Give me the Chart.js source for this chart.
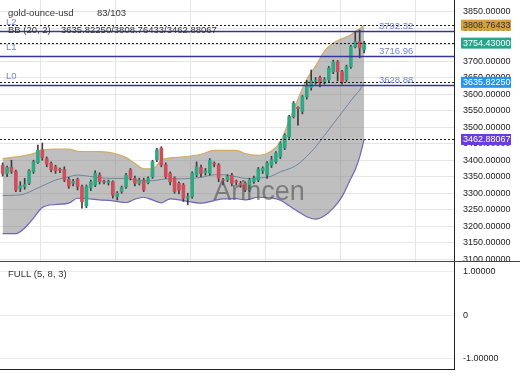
<!DOCTYPE html>
<html>
<head>
<meta charset="utf-8">
<script src="https://cdn.jsdelivr.net/npm/chart.js@4.4.0/dist/chart.umd.min.js"></script>
<style>
  body { margin: 0; background: #fff; }
  #wrap { position: relative; width: 520px; height: 390px; }
  canvas { position: absolute; left: 0; }
</style>
</head>
<body>
<div id="wrap">
  <canvas id="priceChart" width="520" height="261" style="top:0"></canvas>
  <canvas id="oscChart" width="520" height="110" style="top:261px"></canvas>
</div>
<script>
// Candles, one per slot (83 of 103 slots filled)
var candleOpen = [3384, 3360, 3378, 3366, 3315, 3320, 3330, 3366, 3393, 3432,
  3405, 3390, 3380, 3372, 3372, 3342, 3330, 3342, 3320, 3262,
  3316, 3325, 3355, 3336, 3332, 3335, 3290, 3305, 3320, 3370,
  3345, 3330, 3340, 3332, 3350, 3401, 3437, 3386, 3360, 3346,
  3330, 3325, 3285, 3290, 3355, 3378, 3362, 3361, 3390, 3386,
  3340, 3340, 3355, 3335, 3330, 3331, 3310, 3335, 3340, 3368,
  3355, 3385, 3396, 3411, 3437, 3471, 3532, 3560, 3547, 3592,
  3620, 3640, 3650, 3636, 3643, 3668, 3698, 3668, 3643, 3683,
  3744, 3759, 3734];
var candleHigh = [3392, 3382, 3400, 3370, 3335, 3345, 3372, 3400, 3446, 3452,
  3410, 3395, 3385, 3376, 3380, 3348, 3342, 3346, 3325, 3325,
  3340, 3368, 3362, 3340, 3340, 3338, 3305, 3322, 3360, 3375,
  3352, 3346, 3346, 3350, 3400, 3436, 3441, 3392, 3365, 3350,
  3335, 3330, 3300, 3365, 3395, 3385, 3375, 3405, 3395, 3390,
  3345, 3356, 3360, 3340, 3336, 3335, 3345, 3352, 3378, 3380,
  3396, 3412, 3426, 3456, 3480, 3536, 3578, 3562, 3596, 3642,
  3673, 3650, 3655, 3650, 3684, 3703, 3702, 3672, 3688, 3748,
  3789, 3794, 3760];
var candleLow = [3352, 3350, 3360, 3305, 3305, 3312, 3326, 3360, 3390, 3400,
  3380, 3365, 3360, 3362, 3335, 3315, 3322, 3310, 3255, 3256,
  3308, 3320, 3328, 3328, 3325, 3285, 3280, 3300, 3315, 3340,
  3322, 3325, 3305, 3328, 3345, 3396, 3380, 3345, 3325, 3300,
  3298, 3275, 3265, 3285, 3350, 3350, 3355, 3355, 3380, 3335,
  3325, 3335, 3322, 3325, 3318, 3305, 3305, 3330, 3335, 3360,
  3345, 3378, 3390, 3405, 3432, 3466, 3528, 3506, 3540, 3585,
  3612, 3630, 3622, 3630, 3638, 3662, 3640, 3630, 3638, 3678,
  3740, 3710, 3725];
var candleClose = [3360, 3378, 3366, 3310, 3322, 3326, 3368, 3395, 3430, 3408,
  3388, 3372, 3368, 3370, 3340, 3322, 3336, 3320, 3274, 3320,
  3335, 3361, 3335, 3334, 3336, 3294, 3300, 3318, 3355, 3346,
  3330, 3340, 3310, 3345, 3396, 3431, 3386, 3350, 3335, 3305,
  3310, 3285, 3290, 3361, 3380, 3360, 3368, 3400, 3388, 3346,
  3338, 3350, 3330, 3334, 3325, 3310, 3340, 3346, 3373, 3376,
  3391, 3402, 3422, 3452, 3476, 3532, 3573, 3556, 3592, 3625,
  3640, 3642, 3634, 3644, 3679, 3698, 3668, 3638, 3683, 3744,
  3759, 3740, 3754.43];

// Bollinger band (20, 2) at these candle slots
var bandIndex  = [0, 3, 5, 7, 9, 12, 15, 17, 22, 25, 28, 30, 32, 34, 36, 38, 41, 45,
  48, 50, 53, 55, 58, 61, 63, 65, 67, 69, 71, 73, 75, 77, 79, 80, 81, 82];
var bandUpper  = [3405, 3410, 3414, 3420, 3430, 3434, 3434, 3427, 3426, 3422, 3408, 3390, 3374, 3374, 3400, 3407, 3410, 3418,
  3430, 3430, 3430, 3420, 3415, 3428, 3455, 3520, 3585, 3645, 3685, 3730, 3755, 3768, 3780, 3790, 3798, 3808.76433];
var bandMiddle = [3293, 3294, 3298, 3310, 3322, 3340, 3350, 3355, 3347, 3345, 3345, 3340, 3338, 3338, 3342, 3344, 3344, 3348,
  3356, 3356, 3350, 3345, 3346, 3352, 3365, 3374, 3388, 3412, 3440, 3475, 3510, 3545, 3580, 3597, 3612, 3635.8225];
var bandLower  = [3178, 3178, 3195, 3225, 3257, 3266, 3270, 3285, 3280, 3277, 3272, 3282, 3288, 3280, 3271, 3283, 3278, 3270,
  3278, 3283, 3284, 3280, 3288, 3286, 3279, 3262, 3245, 3229, 3222, 3232, 3255, 3290, 3345, 3372, 3410, 3462.88067];

var bbLast = [3635.82250, 3808.76433, 3462.88067]; // middle / upper / lower
var lastClose = 3754.43;

var levelNames = ["L0", "L1", "L2"];
var levelValues = [3628.88, 3716.96, 3792.32];

var priceTicks = [3100, 3150, 3200, 3250, 3300, 3350, 3400, 3450, 3500, 3550,
  3600, 3650, 3700, 3750, 3800, 3850];
var oscTicks = [-1, 0, 1];

var fontName = "'Liberation Sans', Arial, sans-serif";
var upColor = "#2fa883";
var downColor = "#cf4e5b";

// build chart data from the arrays
var bodyData = [], wickData = [], bodyColors = [];
for (var i = 0; i < candleOpen.length; i++) {
  bodyData.push({ x: i, y: [candleOpen[i], candleClose[i]] });
  wickData.push({ x: i, y: [candleLow[i], candleHigh[i]] });
  bodyColors.push(candleClose[i] >= candleOpen[i] ? upColor : downColor);
}
function bandPoints(values) {
  return values.map(function (v, k) { return { x: bandIndex[k], y: v }; });
}

function fixRightAxis(scale) {
  scale.width = 66;
  scale.paddingTop = 0;
  scale.paddingBottom = 0;
}

function hLine(ctx, x1, x2, y) {
  ctx.beginPath();
  ctx.moveTo(x1, y);
  ctx.lineTo(x2, y);
  ctx.stroke();
}

var overlayPlugin = {
  id: "overlay",
  afterDatasetsDraw: function (chart) {
    var ctx = chart.ctx, area = chart.chartArea, y = chart.scales.y;
    ctx.save();

    // watermark
    ctx.font = "27px " + fontName;
    ctx.fillStyle = "rgba(80,80,80,0.6)";
    ctx.textAlign = "center";
    ctx.textBaseline = "middle";
    ctx.fillText("Arincen", 259, 193);

    // dashed lines at last values
    ctx.strokeStyle = "#1a1a1a";
    ctx.lineWidth = 1;
    ctx.setLineDash([2, 2]);
    [bbLast[1], lastClose, bbLast[0], bbLast[2]].forEach(function (v) {
      hLine(ctx, area.left, area.right, Math.round(y.getPixelForValue(v)) + 0.5);
    });
    ctx.setLineDash([]);

    // level lines
    ctx.font = "9.5px " + fontName;
    ctx.textAlign = "left";
    ctx.textBaseline = "alphabetic";
    for (var k = 0; k < levelValues.length; k++) {
      var py = Math.round(y.getPixelForValue(levelValues[k])) + 0.5;
      ctx.strokeStyle = "#35359a";
      ctx.lineWidth = 1.5;
      hLine(ctx, area.left, area.right, py);
      ctx.fillStyle = "#7384cc";
      ctx.fillText(levelNames[k], 6, py - 7);
      ctx.fillText(levelValues[k].toFixed(2), 379, py - 3);
    }

    // legend texts
    ctx.fillStyle = "#333";
    ctx.fillText("gold-ounce-usd", 8, 16);
    ctx.fillText(candleOpen.length + "/103", 97, 16);
    ctx.fillText("BB (20, 2)", 8, 32.5);
    ctx.fillText(bbLast[0].toFixed(5) + "/" + bbLast[1].toFixed(5) + "/" + bbLast[2].toFixed(5), 61, 32.5);
    ctx.restore();
  },
  afterDraw: function (chart) {
    var ctx = chart.ctx, y = chart.scales.y;
    var badges = [
      { v: bbLast[1], bg: "#d6a03c", fg: "#333" },
      { v: lastClose, bg: "#27a68c", fg: "#fff" },
      { v: bbLast[0], bg: "#2196f3", fg: "#fff" },
      { v: bbLast[2], bg: "#6a3ce0", fg: "#fff" }
    ];
    ctx.save();
    ctx.font = "9px " + fontName;
    ctx.textAlign = "left";
    ctx.textBaseline = "middle";
    badges.forEach(function (b) {
      var py = y.getPixelForValue(b.v);
      ctx.fillStyle = b.bg;
      ctx.fillRect(461, py - 5.5, 50, 11);
      ctx.fillStyle = b.fg;
      ctx.fillText(b.v.toFixed(5), 463, py + 0.5);
    });
    ctx.restore();
  }
};

new Chart(document.getElementById("priceChart"), {
  type: "line",
  data: {
    datasets: [
      {
        type: "line", data: bandPoints(bandUpper), borderColor: "#d2ab64", borderWidth: 1.2,
        pointRadius: 0, cubicInterpolationMode: "monotone",
        fill: { target: 2 }, backgroundColor: "rgba(128,128,128,0.5)", order: 3
      },
      {
        type: "line", data: bandPoints(bandMiddle), borderColor: "#5b8db8", borderWidth: 1,
        pointRadius: 0, cubicInterpolationMode: "monotone", fill: false, order: 3
      },
      {
        type: "line", data: bandPoints(bandLower), borderColor: "#6a5acd", borderWidth: 1.2,
        pointRadius: 0, cubicInterpolationMode: "monotone", fill: false, order: 3
      },
      {
        type: "bar", data: wickData, backgroundColor: "#3d3d3d", barThickness: 1,
        grouped: false, order: 1
      },
      {
        type: "bar", data: bodyData, backgroundColor: bodyColors, barThickness: 3,
        minBarLength: 1, grouped: false, order: 0
      }
    ]
  },
  options: {
    responsive: false,
    animation: false,
    devicePixelRatio: 1,
    layout: { padding: 0, autoPadding: false },
    plugins: { legend: { display: false }, tooltip: { enabled: false } },
    scales: {
      x: {
        type: "linear", min: -0.6, max: 102.4, offset: false,
        afterBuildTicks: function (scale) {
          var t = [];
          for (var k = 0; k < 6; k++) t.push({ value: k * 17.05 });
          scale.ticks = t;
        },
        ticks: { display: false },
        grid: { color: "#e6e6e6", drawTicks: false },
        border: { display: false }
      },
      y: {
        position: "right", min: 3095, max: 3885,
        afterBuildTicks: function (scale) {
          scale.ticks = priceTicks.map(function (v) { return { value: v }; });
        },
        afterFit: fixRightAxis,
        ticks: {
          padding: 9, color: "#222", font: { family: fontName, size: 9 },
          callback: function (v) { return Number(v).toFixed(5); }
        },
        grid: { color: "#e6e6e6", drawTicks: false },
        border: { display: true, color: "#222", width: 1 }
      }
    }
  },
  plugins: [overlayPlugin]
});

new Chart(document.getElementById("oscChart"), {
  type: "line",
  data: { datasets: [] },
  options: {
    responsive: false,
    animation: false,
    devicePixelRatio: 1,
    layout: { padding: { bottom: 2 }, autoPadding: false },
    plugins: { legend: { display: false }, tooltip: { enabled: false } },
    scales: {
      x: {
        type: "linear", min: -0.6, max: 102.4,
        ticks: { display: false },
        grid: { display: false, drawTicks: false },
        border: { display: true, color: "#222", width: 1 }
      },
      y: {
        position: "right", min: -1.24, max: 1.25,
        afterBuildTicks: function (scale) {
          scale.ticks = oscTicks.map(function (v) { return { value: v }; });
        },
        afterFit: fixRightAxis,
        ticks: {
          padding: 9, color: "#222", font: { family: fontName, size: 9 },
          callback: function (v) { return v === 0 ? "0" : Number(v).toFixed(5); }
        },
        grid: { color: "#ebebeb", drawTicks: false },
        border: { display: true, color: "#222", width: 1 }
      }
    }
  },
  plugins: [{
    id: "paneText",
    afterDraw: function (chart) {
      var ctx = chart.ctx;
      ctx.save();
      ctx.strokeStyle = "#444";
      ctx.lineWidth = 1;
      hLine(ctx, 0, 520, 0.5);
      ctx.font = "9.5px " + fontName;
      ctx.fillStyle = "#333";
      ctx.fillText("FULL (5, 8, 3)", 8, 15.5);
      ctx.restore();
    }
  }]
});
</script>
</body>
</html>
